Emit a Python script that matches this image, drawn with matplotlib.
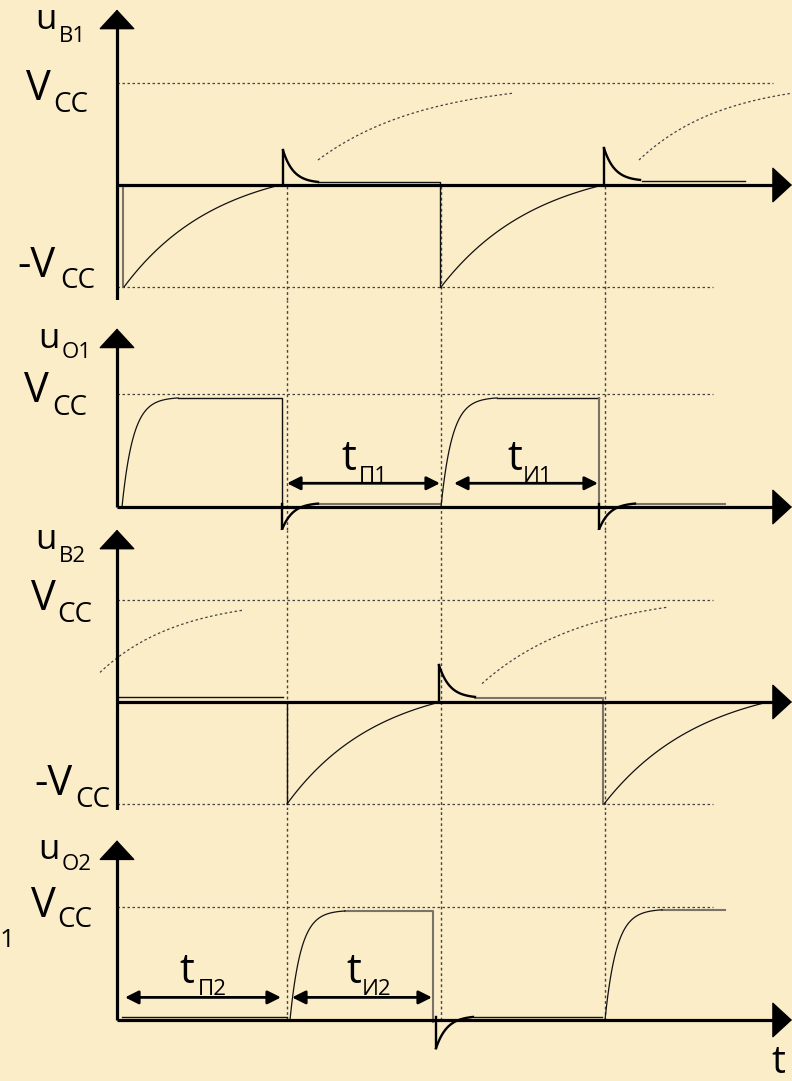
import numpy as np
import matplotlib.pyplot as plt

plt.rcParams['font.family'] = ['Open Sans', 'DejaVu Sans']

BG = '#fcedc9'
W, H = 792, 1081

# time axis: 0 at the vertical axis, arrow tip at t_end
t_sw = [170, 324, 488]
t_end = 675

# --- u_B1 (volts in units of Vcc) ---
ub1_thin = [([201, 323, 323], [0.03, 0.03, -1.0]),
            ([525, 628], [0.04, 0.04])]
ub1_gray = [([6, 6], [0.0, -1.0])]
ub1_spike = [([166, 166], [0.0, 0.34]),
             ([487, 487], [0.0, 0.36])]
# RC pieces: t0, v0, t1, v1, relative time constant
ub1_charge = [(7, -1.0, 163, 0.0, 0.6),
              (324, -1.0, 486, 0.0, 0.6)]
ub1_decay = [(166, 0.34, 201, 0.03, 0.3),
             (487, 0.36, 523, 0.05, 0.3)]
ub1_dotted = [(201, 0.245, 396, 0.90, 0.55),
              (522, 0.245, 675, 0.90, 0.55)]

# --- u_O1 ---
uo1_thin = [([61, 165, 165], [0.965, 0.965, 0.0]),
            ([380, 482], [0.965, 0.965])]
uo1_gray = [([201, 323], [0.03, 0.03]),
            ([482, 482], [0.965, 0.0]),
            ([518, 608], [0.03, 0.03])]
uo1_spike = [([165, 165], [0.03, -0.2]),
             ([482, 482], [0.03, -0.2])]
uo1_charge = [(5, 0.0, 61, 0.965, 0.2),
              (324, 0.0, 380, 0.965, 0.2)]
uo1_decay = [(165, -0.2, 201, 0.03, 0.3),
             (482, -0.2, 518, 0.03, 0.3)]

# --- u_B2 ---
ub2_thin = [([0, 166], [0.05, 0.05]),
            ([170, 170], [0.0, -1.0])]
ub2_gray = [([358, 486, 486], [0.04, 0.04, -1.0])]
ub2_spike = [([322, 322], [0.0, 0.36])]
ub2_charge = [(170, -1.0, 323, 0.0, 0.6),
              (487, -1.0, 651, 0.0, 0.6)]
ub2_decay = [(322, 0.36, 358, 0.05, 0.3)]
ub2_dotted = [(-17, 0.29, 126, 0.90, 0.55),
              (365, 0.18, 551, 0.93, 0.55)]

# --- u_O2 ---
uo2_thin = [([5, 170], [0.027, 0.027]),
            ([357, 485], [0.027, 0.027])]
uo2_gray = [([228, 316, 316], [0.965, 0.965, -0.02]),
            ([545, 608], [0.975, 0.975])]
uo2_spike = [([319, 319], [0.027, -0.25])]
uo2_charge = [(173, 0.0, 228, 0.965, 0.2),
              (488, 0.0, 545, 0.975, 0.2)]
uo2_decay = [(319, -0.25, 356, 0.027, 0.3)]

# pulse / pause spans
spans_1 = [(170, 323, 'П1'), (337, 481, 'И1')]
spans_2 = [(8, 164, 'П2'), (175, 315, 'И2')]

DOT = (0, (2.0, 2.0))


def rc(t0, v0, t1, v1, k, n=80):
    s = np.linspace(0, 1, n)
    f = (1 - np.exp(-s / k)) / (1 - np.exp(-1 / k))
    return t0 + (t1 - t0) * s, v0 + (v1 - v0) * f


fig = plt.figure(figsize=(W / 100, H / 100), dpi=100)
fig.patch.set_facecolor(BG)

# band rows on the sheet, zero-line row, pixels per Vcc
layout = [(0, 300, 185, 102), (300, 530, 507, 113),
          (530, 810, 702, 102), (810, H, 1020, 113)]
axes = []
for top, bot, zero, scale in layout:
    ax = fig.add_axes([0, 1 - bot / H, 1, (bot - top) / H])
    ax.set_xlim(-117, t_end)
    ax.set_ylim((zero - bot) / scale, (zero - top) / scale)
    ax.axis('off')
    ax.set_facecolor('none')
    axes.append(ax)


def axis_arrow(ax, p0, p1):
    ax.annotate('', xy=p1, xytext=p0,
                arrowprops=dict(arrowstyle='-|>,head_length=1.3,head_width=1.2',
                                lw=1.0, color='black', shrinkA=0, shrinkB=0,
                                mutation_scale=10))


def draw_panel(ax, thin=(), gray=(), spike=(), charge=(), decay=(), dotted=()):
    for t, v in thin:
        ax.plot(t, v, color='#111111', lw=1.0, zorder=3)
    for t, v in gray:
        ax.plot(t, v, color='#7a7468', lw=1.5, zorder=3)
    for t, v in spike:
        ax.plot(t, v, color='black', lw=1.7, zorder=4)
    for c in charge:
        ax.plot(*rc(*c), color='#111111', lw=0.9, zorder=3)
    for c in decay:
        ax.plot(*rc(*c), color='black', lw=1.7, zorder=4)
    for c in dotted:
        ax.plot(*rc(*c), color='#444444', lw=0.9, ls=DOT, zorder=2)


# reference levels
ref = [[(1, 656), (-1, 596)], [(1, 596)], [(1, 596), (-1, 596)], [(1, 596)]]
for ax, levels in zip(axes, ref):
    for v, t1 in levels:
        ax.plot([0, t1], [v, v], color='#444444', lw=0.9, ls=DOT, zorder=1)

# switching instants
for i, ax in enumerate(axes):
    lo, hi = ax.get_ylim()
    if i == 0:
        hi = 0
    if i == 3:
        lo = 0
    ax.vlines(t_sw, lo, hi, color='#444444', lw=1.0, ls=DOT, zorder=1)

# coordinate axes
v_ranges = [(-1.25, 1.72), (0, 1.58), (-1.24, 1.69), (0, 1.59)]
for ax, (vlo, vhi) in zip(axes, v_ranges):
    ax.plot([0, 0], [vlo, vhi - 0.1], color='black', lw=2.3, zorder=5,
            solid_capstyle='butt')
    axis_arrow(ax, (0, vhi - 0.14), (0, vhi))
    ax.plot([0, t_end - 10], [0, 0], color='black', lw=2.3, zorder=5,
            solid_capstyle='butt')
    axis_arrow(ax, (t_end - 15, 0), (t_end, 0))

draw_panel(axes[0], ub1_thin, ub1_gray, ub1_spike, ub1_charge, ub1_decay, ub1_dotted)
draw_panel(axes[1], uo1_thin, uo1_gray, uo1_spike, uo1_charge, uo1_decay)
draw_panel(axes[2], ub2_thin, ub2_gray, ub2_spike, ub2_charge, ub2_decay, ub2_dotted)
draw_panel(axes[3], uo2_thin, uo2_gray, uo2_spike, uo2_charge, uo2_decay)

# duration markers
for ax, spans, v in [(axes[1], spans_1, 0.21), (axes[3], spans_2, 0.2)]:
    for t0, t1, _ in spans:
        ax.annotate('', xy=(t1, v), xytext=(t0, v),
                    arrowprops=dict(arrowstyle='<|-|>,head_length=0.8,head_width=0.4',
                                    lw=2.0, color='black', shrinkA=0, shrinkB=0,
                                    mutation_scale=10), zorder=6)

# text overlay in sheet pixels
tx = fig.add_axes([0, 0, 1, 1])
tx.set_xlim(0, W)
tx.set_ylim(H, 0)
tx.axis('off')
tx.set_facecolor('none')


def label(x, y, main, sub, size, sub_size, sx, sy):
    tx.text(x, y, main, fontsize=size, va='baseline', ha='left')
    tx.text(sx, sy, sub, fontsize=sub_size, va='baseline', ha='left')


label(35, 29, 'u', 'B1', 25, 16, 59, 42)
label(26, 100, 'V', 'CC', 30, 20, 53, 112)
label(17, 277, '-V', 'CC', 30, 20, 60, 288)
label(38, 348, 'u', 'O1', 25, 16, 62, 358)
label(24, 402, 'V', 'CC', 30, 20, 52, 415)
label(35, 549, 'u', 'B2', 25, 16, 59, 562)
label(31, 610, 'V', 'CC', 30, 20, 57, 622)
label(34, 795, '-V', 'CC', 30, 20, 75, 807)
label(38, 859, 'u', 'O2', 25, 16, 62, 870)
label(31, 917, 'V', 'CC', 30, 20, 57, 927)

label(341, 470, 't', 'П1', 30, 16, 359, 482)
label(507, 470, 't', 'И1', 30, 16, 523, 482)
label(179, 983, 't', 'П2', 30, 16, 198, 995)
label(346, 983, 't', 'И2', 30, 16, 362, 995)

tx.text(771, 1073, 't', fontsize=28, va='baseline', ha='left')
tx.text(0, 947, '1', fontsize=19, va='baseline', ha='left')

fig.savefig('out.png', dpi=100, facecolor=BG)
